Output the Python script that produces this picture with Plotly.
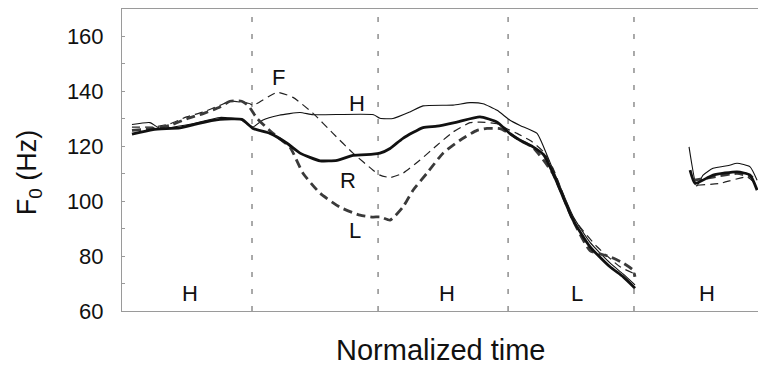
import plotly.graph_objects as go

# ---- data (normalized time, F0 in Hz) ----
H_t = [0.078, 0.219, 0.298, 0.532, 0.767, 0.932, 0.990, 1.026, 1.100, 1.230, 1.394, 1.496, 1.970, 2.020,
       2.122, 2.255, 2.357, 2.592, 2.725, 2.827, 2.937, 3.038, 3.117, 3.250, 3.289, 3.375, 3.532, 3.665,
       3.821, 3.923, 4.017, None, 4.440, 4.500, 4.550, 4.628, 4.750, 4.816, 4.918, 4.973]
H_f0 = [127.9, 128.6, 126.5, 128.0, 130.5, 129.7, 127.9, 127.0, 129.5, 131.3, 132.3, 131.5, 131.5, 130.2,
        130.1, 132.5, 134.7, 135.0, 135.9, 135.5, 133.1, 129.5, 127.6, 124.7, 121.1, 111.5, 94.5, 85.0,
        77.5, 73.5, 69.5, None, 119.8, 105.5, 109.5, 112.0, 113.0, 113.8, 112.5, 107.6]

R_t = [0.078, 0.243, 0.454, 0.585, 0.767, 0.938, 1.026, 1.159, 1.292, 1.394, 1.551, 1.684, 1.809, 1.966,
       2.020, 2.099, 2.200, 2.357, 2.467, 2.623, 2.803, 2.937, 3.038, 3.117, 3.218, 3.300, 3.375, 3.532,
       3.665, 3.821, 3.923, 4.017, None, 4.448, 4.487, 4.628, 4.816, 4.918, 4.973]
R_f0 = [124.4, 126.1, 126.7, 128.2, 129.8, 129.8, 126.5, 124.7, 121.1, 117.5, 114.7, 114.9, 116.7, 117.1,
        117.5, 119.2, 122.9, 126.8, 127.3, 128.8, 130.7, 128.8, 124.6, 122.2, 119.8, 117.0, 110.2, 93.1,
        83.4, 76.1, 72.5, 68.3, None, 111.3, 106.5, 109.5, 110.7, 109.5, 104.0]

F_t = [0.078, 0.243, 0.376, 0.506, 0.636, 0.767, 0.845, 0.924, 1.002, 1.026, 1.214, 1.339, 1.496, 1.652,
       1.809, 1.966, 2.020, 2.099, 2.200, 2.334, 2.467, 2.592, 2.725, 2.803, 2.937, 3.038, 3.093, 3.200,
       3.300, 3.375, 3.532, 3.720, 3.900, 4.002, None, 4.503, 4.683, 4.894, 4.957]
F_f0 = [127.0, 127.0, 128.2, 130.7, 132.5, 134.9, 136.4, 136.1, 135.5, 134.9, 139.6, 137.8, 132.0, 124.7,
        117.5, 111.3, 109.5, 108.6, 110.2, 115.0, 120.4, 125.2, 128.6, 128.8, 128.2, 125.8, 124.7, 122.0,
        118.0, 112.0, 94.0, 83.4, 76.1, 73.8, None, 105.8, 106.5, 108.8, 106.5]

L_t = [0.078, 0.243, 0.376, 0.506, 0.636, 0.767, 0.845, 0.937, 0.987, 1.057, 1.182, 1.316, 1.417, 1.551,
       1.707, 1.864, 1.966, 2.020, 2.099, 2.200, 2.279, 2.388, 2.514, 2.647, 2.780, 2.858, 2.960, 3.038,
       3.120, 3.220, 3.375, 3.532, 3.665, 3.821, 3.923, 4.002, 4.017, None, 4.471, 4.628, 4.816, 4.941]
L_f0 = [125.8, 126.5, 127.6, 130.0, 131.9, 134.3, 136.4, 136.4, 134.9, 130.2, 124.7, 119.6, 110.2, 102.9,
        97.8, 94.9, 94.2, 94.3, 93.1, 97.9, 104.0, 110.2, 117.5, 122.2, 125.8, 126.5, 126.4, 124.6,
        122.0, 119.5, 110.0, 93.0, 82.0, 79.8, 77.5, 74.9, 72.5, None, 107.6, 108.8, 110.1, 108.7]

boundaries = [1.018, 2.005, 3.023, 4.009]

contour_labels = ["F", "H", "R", "L"]
contour_label_t = [1.222, 1.840, 1.770, 1.825]
contour_label_f0 = [145.2, 135.6, 107.6, 89.5]

tone_labels = ["H", "H", "L", "H"]
tone_label_t = [0.532, 2.545, 3.563, 4.581]
tone_label_f0 = [66.5, 66.5, 66.5, 66.5]

y_ticks = [60, 80, 100, 120, 140, 160]

FONT = "Liberation Sans, Arial, Helvetica, sans-serif"

fig = go.Figure()

def add(t, f0, width, color, dash):
    fig.add_trace(go.Scatter(x=t, y=f0, mode="lines", connectgaps=False,
                             line=dict(width=width, color=color, dash=dash, shape="spline", smoothing=0.5),
                             hoverinfo="skip", showlegend=False))

add(H_t, H_f0, 1.1, "#111111", "solid")
add(F_t, F_f0, 1.2, "#222222", "8px,5px")
add(L_t, L_f0, 2.8, "#3a3a3a", "9px,5px")
add(R_t, R_f0, 2.8, "#111111", "solid")

for b in boundaries:
    fig.add_shape(type="line", x0=b, x1=b, y0=0, y1=1, xref="x", yref="paper",
                  line=dict(color="#555555", width=1, dash="5px,12px"), layer="below")

for txt, t, f in zip(contour_labels, contour_label_t, contour_label_f0):
    fig.add_annotation(x=t, y=f, text=txt, showarrow=False, xanchor="center", yanchor="middle",
                       font=dict(family=FONT, size=22, color="#111111"))
for txt, t, f in zip(tone_labels, tone_label_t, tone_label_f0):
    fig.add_annotation(x=t, y=f, text=txt, showarrow=False, xanchor="center", yanchor="middle",
                       font=dict(family=FONT, size=22, color="#111111"))

fig.add_annotation(x=-0.146, y=0.46, xref="paper", yref="paper", text="F<sub>0</sub> (Hz)",
                   textangle=-90, showarrow=False, xanchor="center", yanchor="middle",
                   font=dict(family=FONT, size=27, color="#111111"))
fig.add_annotation(x=0.5016, y=-0.129, xref="paper", yref="paper", text="Normalized time",
                   showarrow=False, xanchor="center", yanchor="middle",
                   font=dict(family=FONT, size=29, color="#111111"))

fig.update_layout(
    width=758, height=366,
    margin=dict(l=122, r=0, t=9, b=55),
    paper_bgcolor="white", plot_bgcolor="white",
    font=dict(family=FONT, color="#111111"),
    showlegend=False,
)
fig.update_xaxes(range=[0, 4.98], showgrid=False, zeroline=False, showticklabels=False, ticks="",
                 showline=True, linecolor="#9a9a9a", linewidth=1, mirror=True)
fig.update_yaxes(range=[60, 170], tickvals=y_ticks, showgrid=False, zeroline=False,
                 showline=True, linecolor="#9a9a9a", linewidth=1,
                 ticks="inside", ticklen=3, tickcolor="#9a9a9a", ticklabelstandoff=13,
                 minor=dict(dtick=10, ticks="inside", ticklen=3, tickcolor="#9a9a9a"),
                 tickfont=dict(family=FONT, size=22, color="#111111"))

fig.write_html("out.html")
